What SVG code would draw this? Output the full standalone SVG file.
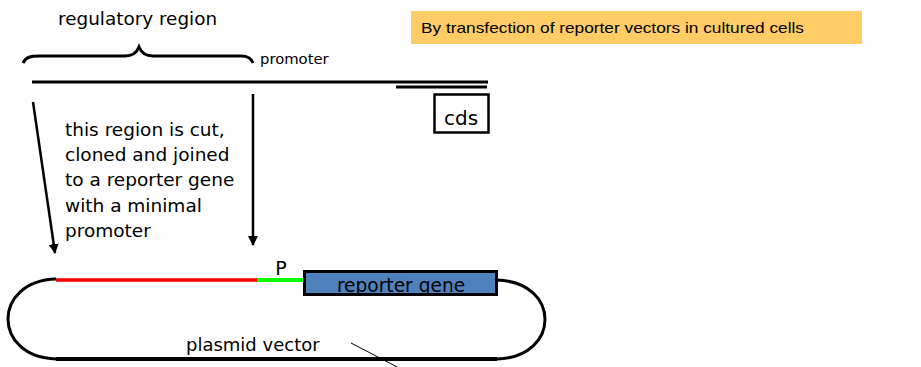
<svg xmlns="http://www.w3.org/2000/svg" width="921" height="367" viewBox="0 0 921 367">
<style>
.t{font-family:"DejaVu Sans",Verdana,sans-serif;fill:#000}
.ln{stroke:#000;stroke-width:3;fill:none}
.arr{stroke:#000;stroke-width:2.5;fill:none;marker-end:url(#ah)}
</style>
<defs>
<marker id="ah" viewBox="0 0 10 10" refX="9" refY="5" markerWidth="4" markerHeight="4" orient="auto" markerUnits="strokeWidth">
<path d="M0,0 L10,5 L0,10 Z" fill="#000"/>
</marker>
</defs>
<rect width="921" height="367" fill="#fff"/>

<g id="note">
<rect x="411" y="11" width="451" height="33" fill="#FFCC66"/>
<text x="421" y="33" font-family="'Liberation Sans',Arial,sans-serif" font-size="15" textLength="383" lengthAdjust="spacingAndGlyphs">By transfection of reporter vectors in cultured cells</text>
</g>

<g id="regulatory-region">
<text class="t" x="58" y="25" font-size="18.4">regulatory region</text>
<path class="ln" d="M23,63 C26,57 30,56 40,56 L125,56 C133,56 137,52 139,47 C141,52 145,56 153,56 L241,56 C248,56 251,58 253,63"/>
</g>

<g id="promoter-label">
<text class="t" x="260" y="64" font-size="14.8">promoter</text>
</g>

<g id="genomic-dna">
<line class="ln" x1="32" y1="82" x2="488" y2="82"/>
<line class="ln" x1="396" y1="87" x2="487" y2="87"/>
</g>

<g id="cds">
<rect x="434.5" y="94.5" width="54" height="38" fill="#fff" stroke="#000" stroke-width="2.5"/>
<text class="t" x="461" y="125" font-size="20" text-anchor="middle">cds</text>
</g>

<g id="description">
<text class="t" font-size="18.5">
<tspan x="65" y="136">this region is cut,</tspan>
<tspan x="65" y="161">cloned and joined</tspan>
<tspan x="65" y="186">to a reporter gene</tspan>
<tspan x="65" y="212">with a minimal</tspan>
<tspan x="65" y="237">promoter</tspan>
</text>
</g>

<g id="connectors">
<line class="arr" x1="33" y1="102" x2="55" y2="253"/>
<line class="arr" x1="253" y1="94" x2="253" y2="245"/>
<line x1="351" y1="343" x2="401" y2="369" stroke="#000" stroke-width="1"/>
</g>

<g id="plasmid">
<path class="ln" d="M56,279 C-8,281 -8,357 56,359"/>
<path class="ln" d="M497,280 C561,282 561,357 497,359"/>
<line x1="56" y1="359" x2="497" y2="359" stroke="#000" stroke-width="4"/>
<line x1="56" y1="280" x2="257" y2="280" stroke="#FF0000" stroke-width="3.5"/>
<line x1="257" y1="280" x2="304" y2="280" stroke="#00FF00" stroke-width="4"/>
<text class="t" x="281" y="275" font-size="19" text-anchor="middle">P</text>
<text class="t" x="186" y="351" font-size="18">plasmid vector</text>
</g>

<g id="reporter-gene">
<rect x="304.5" y="271.5" width="192" height="23" fill="#4F81BD"/>
<text class="t" x="401" y="292" font-size="18.6" text-anchor="middle">reporter gene</text>
<rect x="304.5" y="271.5" width="192" height="23" fill="none" stroke="#000" stroke-width="3"/>
</g>
</svg>
